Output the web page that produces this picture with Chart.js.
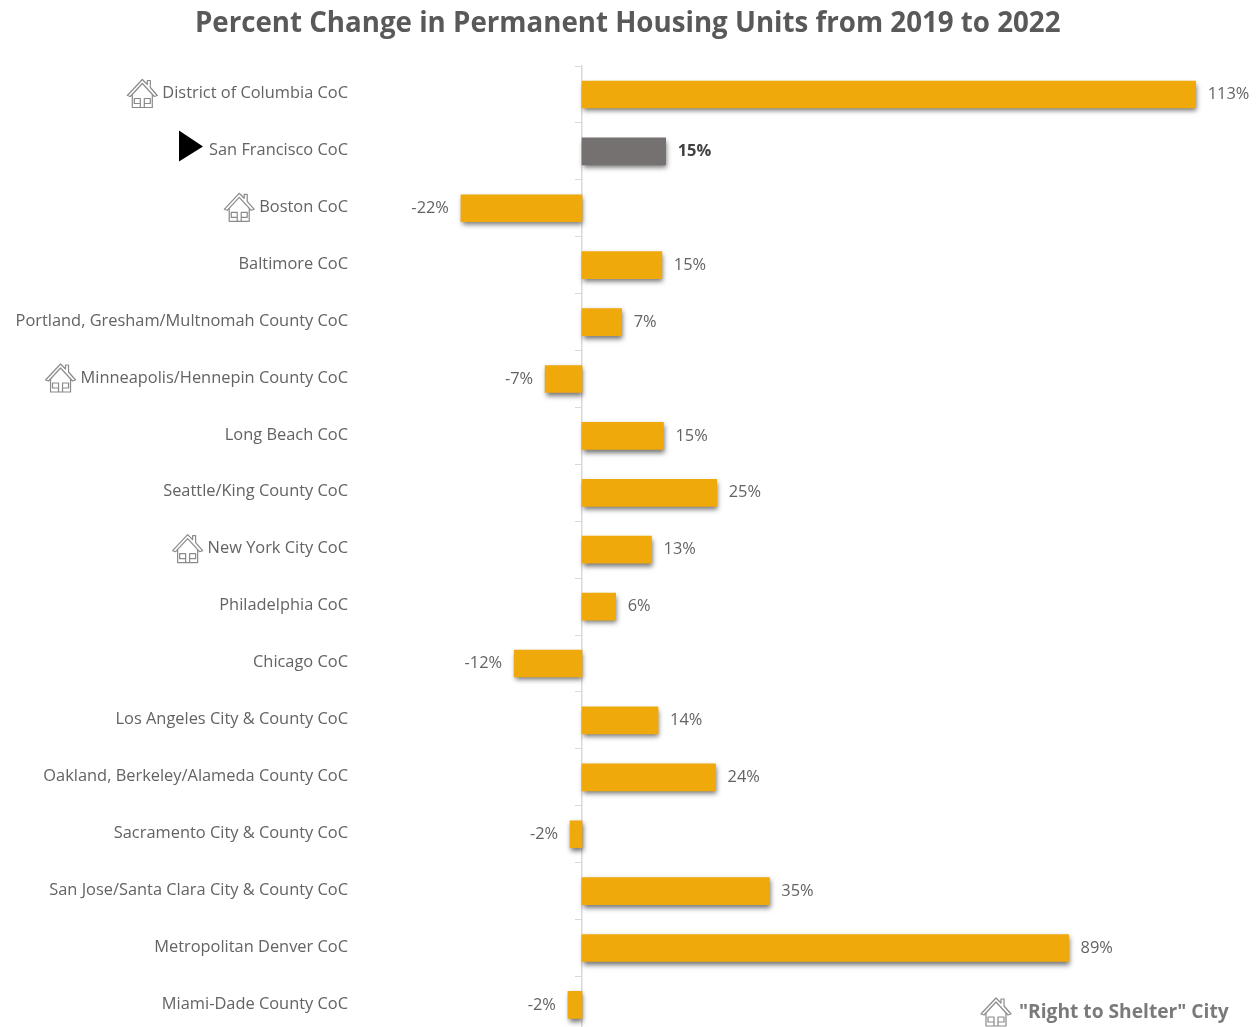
<!DOCTYPE html>
<html>
<head>
<meta charset="utf-8">
<script src="https://cdn.jsdelivr.net/npm/chart.js@4"></script>
<style>
html,body{margin:0;padding:0;background:#fff;width:1260px;height:1027px;overflow:hidden}
#wrap{width:1260px;height:1027px;overflow:hidden}
canvas{display:block}
</style>
</head>
<body>
<div id="wrap"><canvas id="c" width="1260" height="1060"></canvas></div>
<script>
const chartTitle = 'Percent Change in Permanent Housing Units from 2019 to 2022';
const legendLabel = '"Right to Shelter" City';
const categories = [
  'District of Columbia CoC','San Francisco CoC','Boston CoC','Baltimore CoC',
  'Portland, Gresham/Multnomah County CoC','Minneapolis/Hennepin County CoC','Long Beach CoC',
  'Seattle/King County CoC','New York City CoC','Philadelphia CoC','Chicago CoC',
  'Los Angeles City & County CoC','Oakland, Berkeley/Alameda County CoC','Sacramento City & County CoC',
  'San Jose/Santa Clara City & County CoC','Metropolitan Denver CoC','Miami-Dade County CoC'
];
const percentChange = [113,15.4,-22.3,14.7,7.3,-6.8,15,24.8,12.8,6.2,-12.5,14,24.6,-2.2,34.5,89.6,-2.6];
const percentLabels = ['113%','15%','-22%','15%','7%','-7%','15%','25%','13%','6%','-12%','14%','24%','-2%','35%','89%','-2%'];
const rightToShelter = ['District of Columbia CoC','Boston CoC','Minneapolis/Hennepin County CoC','New York City CoC'];
const highlighted = 'San Francisco CoC';

const FONT = '"Open Sans", sans-serif';
const ORANGE = '#F0A90B', GREY = '#767171', TEXT = '#636363';
const LABEL_SIZE = 16.4, LABEL_GAP = 16.8;

function drawHouse(ctx, cx, cy) {
  ctx.save();
  ctx.translate(cx, cy);
  ctx.strokeStyle = '#8a8a8a';
  ctx.fillStyle = '#fff';
  ctx.lineWidth = 1.2;
  ctx.lineJoin = 'round';
  ctx.beginPath();
  ctx.moveTo(-15, 2); ctx.lineTo(0, -14); ctx.lineTo(5, -9); ctx.lineTo(5, -13); ctx.lineTo(8, -13);
  ctx.lineTo(8, -6); ctx.lineTo(15, 2); ctx.lineTo(12, 3); ctx.lineTo(0, -10); ctx.lineTo(-12, 3); ctx.closePath();
  ctx.fill(); ctx.stroke();
  ctx.beginPath();
  ctx.moveTo(-10, 1); ctx.lineTo(-10, 14); ctx.lineTo(10, 14); ctx.lineTo(10, 1);
  ctx.moveTo(-8, 5); ctx.lineTo(-2, 5); ctx.lineTo(-2, 10); ctx.lineTo(-8, 10); ctx.closePath();
  ctx.moveTo(2, 5); ctx.lineTo(8, 5); ctx.lineTo(8, 10); ctx.lineTo(2, 10); ctx.closePath();
  ctx.moveTo(-2, 14); ctx.lineTo(-2, 10); ctx.moveTo(2, 14); ctx.lineTo(2, 10);
  ctx.stroke();
  ctx.restore();
}

const barShadow = {
  id: 'barShadow',
  beforeDatasetDraw(chart) {
    const c = chart.ctx; c.save();
    c.shadowColor = 'rgba(0,0,0,0.55)'; c.shadowBlur = 5; c.shadowOffsetX = 1; c.shadowOffsetY = 3;
  },
  afterDatasetDraw(chart) { chart.ctx.restore(); }
};

const annotations = {
  id: 'annotations',
  afterDraw(chart) {
    const c = chart.ctx, y = chart.scales.y, meta = chart.getDatasetMeta(0);
    const right = y.right - LABEL_GAP;
    c.save();
    c.textBaseline = 'middle';
    meta.data.forEach((bar, i) => {
      const neg = percentChange[i] < 0, hi = categories[i] === highlighted;
      c.font = (hi ? 'bold ' : '') + LABEL_SIZE + 'px ' + FONT;
      c.fillStyle = hi ? '#404040' : TEXT;
      c.textAlign = neg ? 'right' : 'left';
      c.fillText(percentLabels[i], bar.x + (neg ? -12 : 12), bar.y);
    });
    c.font = LABEL_SIZE + 'px ' + FONT;
    categories.forEach((name, i) => {
      const cy = y.getPixelForValue(i);
      const left = right - c.measureText(name).width;
      if (rightToShelter.includes(name)) drawHouse(c, left - 20, cy - 1);
      if (name === highlighted) {
        c.fillStyle = '#000';
        c.beginPath();
        c.moveTo(left - 30, cy - 21); c.lineTo(left - 6, cy - 5); c.lineTo(left - 30, cy + 10); c.closePath();
        c.fill();
      }
    });
    drawHouse(c, 996, 1012);
    c.font = 'bold 19.2px ' + FONT;
    c.fillStyle = '#7a7a7a';
    c.textAlign = 'left';
    c.fillText(legendLabel, 1019, 1013);
    c.restore();
  }
};

new Chart(document.getElementById('c'), {
  type: 'bar',
  data: {
    labels: categories,
    datasets: [{
      data: percentChange,
      backgroundColor: categories.map(n => n === highlighted ? GREY : ORANGE),
      barThickness: 27,
      borderWidth: 0
    }]
  },
  plugins: [barShadow, annotations],
  options: {
    indexAxis: 'y',
    responsive: false,
    animation: false,
    layout: { padding: { top: 0, right: 4.6, bottom: 1, left: 0 } },
    plugins: {
      legend: { display: false },
      tooltip: { enabled: false },
      title: {
        display: true,
        text: chartTitle,
        color: '#595959',
        font: { family: FONT, size: 27.7, weight: 'bold', lineHeight: 1.2 },
        padding: { top: 7, bottom: 25.8 }
      }
    },
    scales: {
      x: { display: false, min: -40, max: 124 },
      y: {
        position: 'left',
        grid: { display: false, drawTicks: false },
        border: { display: false },
        ticks: { color: TEXT, font: { family: FONT, size: LABEL_SIZE }, padding: LABEL_GAP, autoSkip: false, crossAlign: 'near', labelOffset: -1 },
        afterFit(s) { s.width = 364.8; }
      },
      y2: {
        type: 'category',
        labels: categories,
        position: { x: 0 },
        grid: { color: '#d9d9d9', drawOnChartArea: false, tickLength: 6, offset: true },
        border: { color: '#d9d9d9', width: 1.5 },
        ticks: { display: false }
      }
    }
  }
});
</script>
</body>
</html>
